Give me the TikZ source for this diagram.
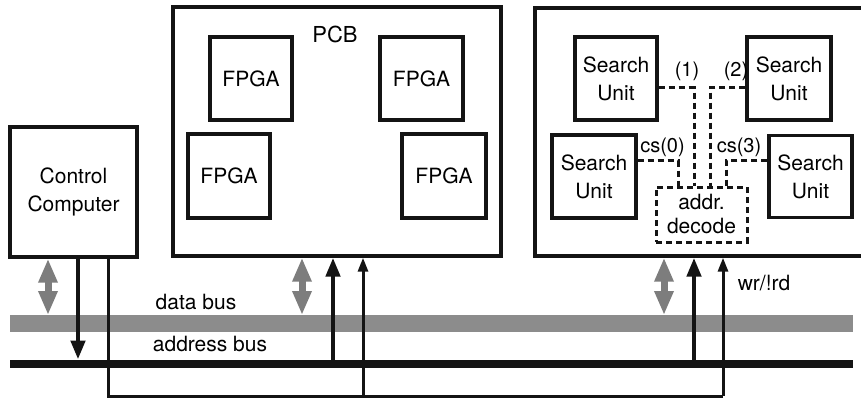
\documentclass[tikz,border=0pt]{standalone}
\usepackage{fontspec}
\setmainfont{TeX Gyre Heros}
\usetikzlibrary{arrows.meta}
\definecolor{busgray}{RGB}{140,140,140}
\definecolor{arrgray}{RGB}{125,125,125}
\definecolor{ink}{RGB}{20,20,20}
\begin{document}
\begin{tikzpicture}[x=1pt,y=-1pt,
  box/.style={draw=ink, line width=3.4pt, align=center, inner sep=0pt,
    font=\fontsize{21}{28}\selectfont},
  lbl/.style={inner sep=0pt, font=\fontsize{20}{22}\selectfont},
  dsh/.style={draw=ink, line width=3pt, dash pattern=on 6pt off 4pt},
  grayarr/.style={draw=arrgray, line width=7pt,
    {Triangle[width=18pt,length=24pt]}-{Triangle[width=18pt,length=24pt]}},
  addrarr/.style={draw=ink, line width=4.5pt, -{Triangle[width=14pt,length=19pt]}},
  thinarr/.style={draw=ink, line width=3pt, -{Triangle[width=10pt,length=14pt]}},
  thinline/.style={draw=ink, line width=3pt}
]
\useasboundingbox (0,0) rectangle (861,398);
\clip (0,0) rectangle (861,398);
\fill[white] (0,0) rectangle (861,398);

% control computer
\node[box, minimum width=127pt, minimum height=130pt] (cc) at (73.5,192) {Control\\Computer};

% PCB
\node[box, minimum width=328pt, minimum height=249pt] (pcb) at (337,131.5) {};
\node[lbl, font=\fontsize{22}{24}\selectfont] (pcbl) at (335,34) {PCB};
\node[box, minimum width=82pt, minimum height=83pt] (f1) at (251,78.5) {FPGA};
\node[box, minimum width=83pt, minimum height=83pt] (f2) at (421.5,78.5) {FPGA};
\node[box, minimum width=82pt, minimum height=84pt] (f3) at (229,176) {FPGA};
\node[box, minimum width=84pt, minimum height=84pt] (f4) at (444,176) {FPGA};

% search unit board (extends beyond right edge)
\node[box, minimum width=365pt, minimum height=248pt] (rb) at (717.5,132) {};
\node[box, minimum width=82pt, minimum height=83pt] (su1) at (616,78.5) {Search\\Unit};
\node[box, minimum width=84pt, minimum height=83pt] (su2) at (789,78.5) {Search\\Unit};
\node[box, minimum width=84pt, minimum height=83pt] (su0) at (594,176.5) {Search\\Unit};
\node[box, minimum width=83pt, minimum height=82pt] (su3) at (810.5,176.5) {Search\\Unit};
\node[box, dsh, minimum width=91pt, minimum height=55pt, font=\fontsize{21}{24}\selectfont] (dec) at (701.5,214.5) {addr.\\decode};

\coordinate (j1) at (694,88);
\coordinate (j2) at (710,88);
\coordinate (j0) at (678,161);
\coordinate (j3) at (726,161);
\draw[dsh] (su1.east |- j1) -- (j1) -- (j1 |- dec.north);
\draw[dsh] (su2.west |- j2) -- (j2) -- (j2 |- dec.north);
\draw[dsh] (su0.east |- j0) -- (j0) -- (j0 |- dec.north);
\draw[dsh] (su3.west |- j3) -- (j3) -- (j3 |- dec.north);

\node[lbl] (l1) at (687,71) {(1)};
\node[lbl] (l2) at (736,71) {(2)};
\node[lbl] (lc0) at (662.5,147) {cs(0)};
\node[lbl] (lc3) at (739,147) {cs(3)};

% buses
\coordinate (dbL) at (10,323.5);
\coordinate (dbR) at (853,323.5);
\coordinate (abL) at (10,363.5);
\coordinate (abR) at (853,363.5);
\draw[busgray, line width=17pt] (dbL) -- (dbR);
\draw[ink, line width=8pt] (abL) -- (abR);
\node[lbl, font=\fontsize{21}{22}\selectfont] (dbl) at (196,302) {data bus};
\node[lbl, font=\fontsize{21}{22}\selectfont] (abl) at (210,344) {address bus};

% data connections (gray double arrows)
\coordinate (g0) at (48,315);
\coordinate (g1) at (302,315);
\coordinate (g2) at (664,315);
\draw[grayarr] (g0 |- cc.south) -- (g0);
\draw[grayarr] (g1 |- pcb.south) -- (g1);
\draw[grayarr] (g2 |- rb.south) -- (g2);

% address connections
\coordinate (a0) at (78,359.5);
\coordinate (a1) at (333,363.5);
\coordinate (a2) at (694,363.5);
\draw[addrarr] (a0 |- cc.south) -- (a0);
\draw[addrarr] (a1) -- (a1 |- pcb.south);
\draw[addrarr] (a2) -- (a2 |- rb.south);

% wr/!rd line
\coordinate (t0) at (108,396);
\coordinate (t1) at (363,396);
\coordinate (t2) at (723,396);
\draw[thinline] (t0 |- cc.south) -- (t0) -- (t2);
\draw[thinarr] (t1) -- (t1 |- pcb.south);
\draw[thinarr] (t2) -- (t2 |- rb.south);
\node[lbl, font=\fontsize{21}{22}\selectfont] (wr) at (764,283) {wr/!rd};
\end{tikzpicture}
\end{document}
